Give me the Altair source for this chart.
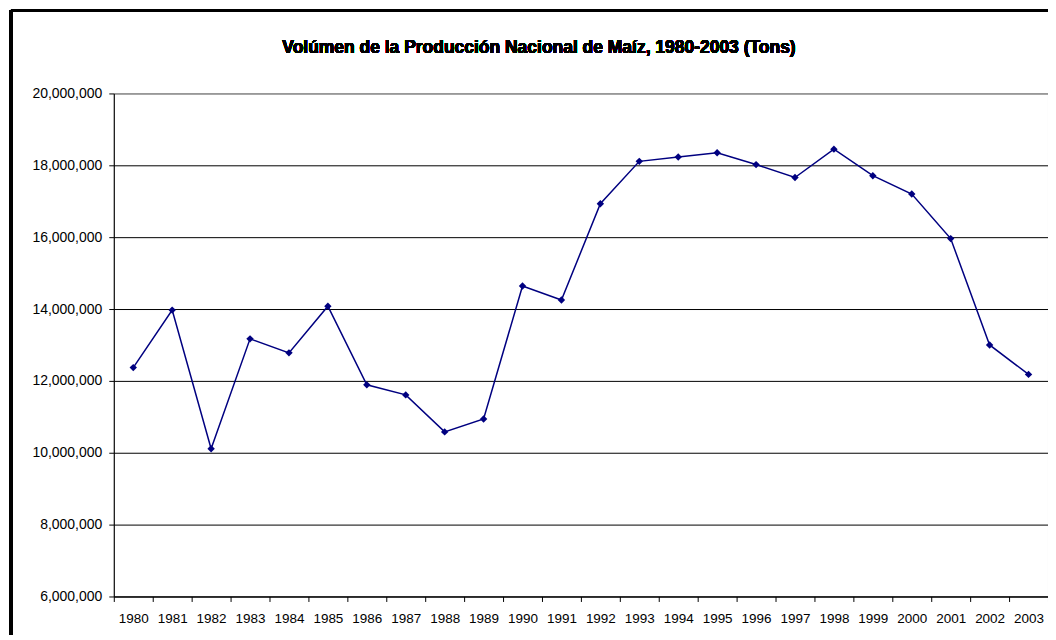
import altair as alt
import pandas as pd

years = [str(y) for y in range(1980, 2004)]
production = [12370000, 13970000, 10110000, 13170000, 12780000, 14080000,
              11890000, 11610000, 10580000, 10940000, 14640000, 14250000,
              16930000, 18110000, 18230000, 18350000, 18020000, 17660000,
              18450000, 17710000, 17200000, 15960000, 13000000, 12180000]
y_ticks = [6000000, 8000000, 10000000, 12000000, 14000000, 16000000, 18000000, 20000000]
title_text = "Volúmen de la Producción Nacional de Maíz, 1980-2003 (Tons)"

df = pd.DataFrame({"year": years, "value": production})

W, H = 936, 504
FONT = "Liberation Sans"

x_enc = alt.X("year:O", scale=alt.Scale(paddingInner=0, paddingOuter=0),
              axis=alt.Axis(title=None, labelAngle=0, tickBand="extent",
                            labelFont=FONT, labelFontSize=13.5, labelColor="black",
                            tickColor="black", tickSize=5, domainColor="black",
                            labelPadding=10, grid=False))
y_enc = alt.Y("value:Q", scale=alt.Scale(domain=[6000000, 20000000], nice=False),
              axis=alt.Axis(title=None, values=y_ticks, format=",d",
                            labelFont=FONT, labelFontSize=14, labelColor="black",
                            tickColor="black", tickSize=5, domainColor="black",
                            labelPadding=7, grid=True,
                            gridColor={"condition": {"test": "datum.value == 20000000", "value": "#808080"}, "value": "black"},
                            gridOpacity=1, gridWidth=1))

line = alt.Chart(df).mark_line(color="#000080", strokeWidth=1.5).encode(x=x_enc, y=y_enc)
pts = alt.Chart(df).mark_point(shape="diamond", filled=True, color="#000080",
                               size=55, opacity=1).encode(x="year:O", y="value:Q")

# outer chart frame (Excel chart area border)
frame_top = alt.Chart(df).mark_rule(color="black", strokeWidth=3).encode(
    x=alt.value(-103), x2=alt.value(W + 20), y=alt.value(-83))
frame_left = alt.Chart(df).mark_rule(color="black", strokeWidth=3).encode(
    x=alt.value(-103), y=alt.value(-83), y2=alt.value(H + 60))

title = alt.Chart(df).mark_text(font=FONT, fontSize=17.5, fontWeight="bold",
                                color="black", align="center", baseline="middle").encode(
    x=alt.value(426), y=alt.value(-46), text=alt.value(title_text))

chart = alt.layer(line, pts, frame_top, frame_left, title).properties(
    width=W, height=H,
    autosize=alt.AutoSizeParams(type="none"),
    padding={"left": 106, "top": 85, "right": 0, "bottom": 38},
    background="white",
).configure_view(stroke="#808080", strokeWidth=1)

chart.save("out.html", embed_options={"renderer": "svg", "actions": False})
